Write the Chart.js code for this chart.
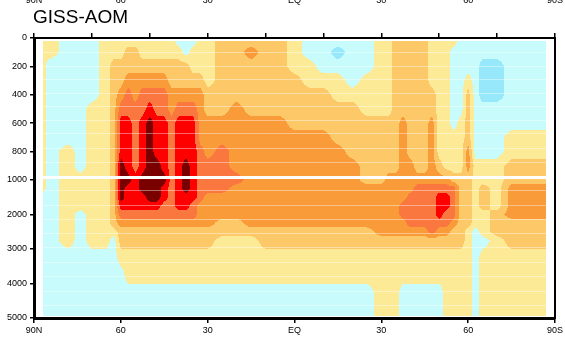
<!DOCTYPE html>
<html>
<head>
<meta charset="utf-8">
<script src="https://cdn.jsdelivr.net/npm/chart.js@4.4.1/dist/chart.umd.min.js"></script>
<style>
  html, body { margin: 0; padding: 0; background: #fff; }
</style>
</head>
<body>
<canvas id="c" width="565" height="337"></canvas>
<script>
/********************
 * Data
 ********************/
const title = "GISS-AOM";

// latitude of each grid column, north to south
const lats = [87, 85, 78, 74, 70, 65, 62.5, 60, 57.5, 55, 52.5, 50, 47.5, 45, 42.5, 40, 37.5, 35, 32.5, 30,
  25, 20, 15, 10, 5, 0, -5, -10, -15, -20, -25, -30, -32.5, -35, -37.5, -40, -42.5, -45, -47.5, -50,
  -52.5, -55, -57.5, -60, -62.5, -65, -70, -75, -80, -85, -87];

// depth of each grid row (m)
const depths = [20, 100, 200, 300, 400, 500, 600, 700, 800, 900, 1000,
  1250, 1500, 1750, 2000, 2250, 2500, 2750, 3250, 3750, 4250, 4950];

// contour class at each node, one string per depth row
// 0 blue, 1 cyan, 2 yellow, 3 light orange, 4 orange, 5 coral, 6 red, 7 dark red
const levels = [
  "22111 22222 22222 11122 33333 21111 12233 33322 22111 11111 1",
  "22111 22233 22222 21222 33433 21101 12233 33322 21111 11111 1",
  "21111 23333 33333 33222 33333 22111 12233 33322 21111 00111 1",
  "21111 23344 44443 33332 33333 32221 22233 33322 21121 00111 1",
  "21111 23454 55554 44443 33333 33322 22233 33332 21131 00111 1",
  "21112 23555 56554 55543 34333 33333 22233 33332 21131 11111 1",
  "21112 23665 67665 66644 44444 33333 33334 33342 21231 11111 1",
  "21112 23665 67665 66644 44444 44433 33334 33342 22231 11222 2",
  "21212 23665 67665 66654 54444 44443 33334 33342 22241 11222 2",
  "21212 23765 67765 67655 54444 44444 33334 43343 22242 22333 3",
  "21222 23776 77775 67655 55444 44444 33444 44444 43332 22333 3",
  "21222 23766 77765 67655 54444 44444 44444 45555 55332 32444 4",
  "11222 23766 67765 66654 44444 44444 44444 55556 65332 32444 4",
  "11222 23666 66655 66544 44444 44444 44445 55556 65332 32444 4",
  "11212 23555 55555 55544 44444 44444 44445 55556 55332 23444 4",
  "11212 23444 44444 44444 33444 44444 44444 55555 54332 23333 3",
  "11212 22333 33333 33333 33333 33333 34444 44454 43321 23333 3",
  "11212 21333 33333 33333 22233 33333 33333 33333 33321 12333 3",
  "11111 11222 22222 22222 22222 22222 22222 22222 22221 22222 2",
  "11111 11122 22222 22222 22222 22222 22222 22222 22221 22222 2",
  "11111 11111 11111 11111 11111 11111 12221 11111 22221 22222 2",
  "11111 11111 11111 11111 11111 11111 12221 11111 22221 22222 2"
];

const levelColors = ["#96e8fa", "#c8fcfc", "#fcea96", "#fcc868", "#fa9b3a", "#fa7840", "#fe0000", "#7a0000"];

// faint model-layer lines (m)
const layerLines = [100, 195, 290, 390, 480, 575, 670, 775, 870, 1290, 1720, 2130, 2530, 2940, 3370, 3780, 4210, 4610];

const latTicks = [90, 60, 30, 0, -30, -60, -90];
const latTickLabels = ["90N", "60", "30", "EQ", "30", "60", "90S"];
const topLatTicks = [90, 70, 50, 30, 10, -10, -30, -50, -70, -90];
const depthTicksTop = [0, 200, 400, 600, 800];
const depthTicksBottom = [1000, 2000, 3000, 4000, 5000];

const FONT = '"Liberation Sans", Arial, sans-serif';

/********************
 * Field plugin
 ********************/
const grid = levels.map(r => r.replace(/ /g, "").split("").map(Number));
const rgb = levelColors.map(h => [parseInt(h.slice(1, 3), 16), parseInt(h.slice(3, 5), 16), parseInt(h.slice(5, 7), 16)]);

function depthPixel(chart, d){
  const s = chart.scales;
  return d <= 1000 ? s.y.getPixelForValue(d) : s.y2.getPixelForValue(d);
}

const fieldPlugin = {
  id: "field",
  beforeDatasetsDraw(chart){
    const { ctx, chartArea: a, scales } = chart;
    const sx = scales.x, top = scales.y, bot = scales.y2;
    const x0 = Math.floor(a.left), y0 = Math.floor(a.top);
    const w = Math.ceil(a.right) - x0, h = Math.ceil(a.bottom) - y0;
    const img = ctx.getImageData(x0, y0, w, h);
    const n = lats.length, m = depths.length;

    // column index + weight per pixel column
    const colI = [], colT = [];
    for(let px = 0; px < w; px++){
      const lat = sx.getValueForPixel(x0 + px + 0.5);
      if(lat > lats[0] || lat < lats[n - 1]){ colI.push(-1); colT.push(0); continue; }
      let i = 0;
      while(i < n - 2 && lat < lats[i + 1]) i++;
      colI.push(i);
      colT.push((lats[i] - lat) / (lats[i] - lats[i + 1]));
    }

    for(let py = 0; py < h; py++){
      const yy = y0 + py + 0.5;
      const d = yy <= top.bottom ? top.getValueForPixel(yy) : bot.getValueForPixel(yy);
      if(d < depths[0] || d > depths[m - 1]) continue;
      let j = 0;
      while(j < m - 2 && d > depths[j + 1]) j++;
      const ty = (d - depths[j]) / (depths[j + 1] - depths[j]);
      const r0 = grid[j], r1 = grid[j + 1];
      for(let px = 0; px < w; px++){
        const i = colI[px];
        if(i < 0) continue;
        const tx = colT[px];
        const v = (1 - ty) * ((1 - tx) * r0[i] + tx * r0[i + 1]) + ty * ((1 - tx) * r1[i] + tx * r1[i + 1]);
        const c = rgb[Math.max(0, Math.min(7, Math.round(v)))];
        const k = (py * w + px) * 4;
        img.data[k] = c[0]; img.data[k + 1] = c[1]; img.data[k + 2] = c[2]; img.data[k + 3] = 255;
      }
    }
    ctx.putImageData(img, x0, y0);

    const xl = sx.getPixelForValue(lats[0]), xr = sx.getPixelForValue(lats[n - 1]);
    ctx.save();
    ctx.strokeStyle = "rgba(255,255,255,0.4)";
    ctx.lineWidth = 1;
    layerLines.forEach(d => {
      const y = Math.round(depthPixel(chart, d)) + 0.5;
      ctx.beginPath(); ctx.moveTo(xl, y); ctx.lineTo(xr, y); ctx.stroke();
    });
    // panel break at 1000 m
    ctx.strokeStyle = "#fff";
    ctx.lineWidth = 3;
    const yb = top.getPixelForValue(1000) - 2.5;
    ctx.beginPath(); ctx.moveTo(xl, yb); ctx.lineTo(xr, yb); ctx.stroke();
    ctx.restore();
  },
  afterDraw(chart){
    const { ctx, scales } = chart;
    ctx.save();
    ctx.fillStyle = "#000";
    ctx.font = "19px " + FONT;
    ctx.textAlign = "left";
    ctx.textBaseline = "alphabetic";
    ctx.fillText(title, 33, 23);
    // axis labels of the panel above, cut by the frame
    ctx.font = "9px " + FONT;
    ctx.textAlign = "center";
    latTicks.forEach((v, i) => ctx.fillText(latTickLabels[i], scales.x.getPixelForValue(v), 3));
    ctx.restore();
  }
};

/********************
 * Chart
 ********************/
Chart.defaults.font.family = FONT;
Chart.defaults.font.size = 9;
Chart.defaults.color = "#000";

const tickGrid = len => ({ display: true, drawOnChartArea: false, drawTicks: true, tickLength: len, color: "#000", lineWidth: 1.5 });
const plain = v => String(v);

new Chart(document.getElementById("c"), {
  type: "scatter",
  data: { datasets: [] },
  options: {
    responsive: false,
    animation: false,
    layout: { padding: 0 },
    plugins: { legend: { display: false }, tooltip: { enabled: false } },
    scales: {
      x: {
        type: "linear", position: "bottom", min: -90, max: 90, reverse: true,
        afterBuildTicks: s => { s.ticks = latTicks.map(v => ({ value: v })); },
        afterFit: s => { s.height = 19; },
        ticks: { autoSkip: false, maxRotation: 0, padding: 2, callback: (v, i) => latTickLabels[i] },
        grid: tickGrid(5),
        border: { display: true, color: "#000", width: 3 }
      },
      x2: {
        type: "linear", position: "top", min: -90, max: 90, reverse: true,
        afterBuildTicks: s => { s.ticks = topLatTicks.map(v => ({ value: v })); },
        afterFit: s => { s.height = 38; },
        ticks: { display: false },
        grid: tickGrid(5),
        border: { display: true, color: "#000", width: 2 }
      },
      y: {
        type: "linear", position: "left", stack: "depth", stackWeight: 142, weight: 2,
        min: 0, max: 1000, reverse: true,
        afterBuildTicks: s => { s.ticks = depthTicksTop.map(v => ({ value: v })); },
        afterFit: s => { s.width = 34; },
        ticks: { autoSkip: false, padding: 3, callback: plain },
        grid: tickGrid(4),
        border: { display: true, color: "#000", width: 3 }
      },
      y2: {
        type: "linear", position: "left", stack: "depth", stackWeight: 138, weight: 1,
        min: 1000, max: 5000, reverse: true,
        afterBuildTicks: s => { s.ticks = depthTicksBottom.map(v => ({ value: v })); },
        afterFit: s => { s.width = 34; },
        ticks: { autoSkip: false, padding: 3, callback: plain },
        grid: tickGrid(4),
        border: { display: true, color: "#000", width: 3 }
      },
      yr: {
        type: "linear", position: "right", min: 0, max: 1,
        afterFit: s => { s.width = 8; },
        ticks: { display: false },
        grid: { display: false },
        border: { display: true, color: "#000", width: 2 }
      }
    }
  },
  plugins: [fieldPlugin]
});
</script>
</body>
</html>
